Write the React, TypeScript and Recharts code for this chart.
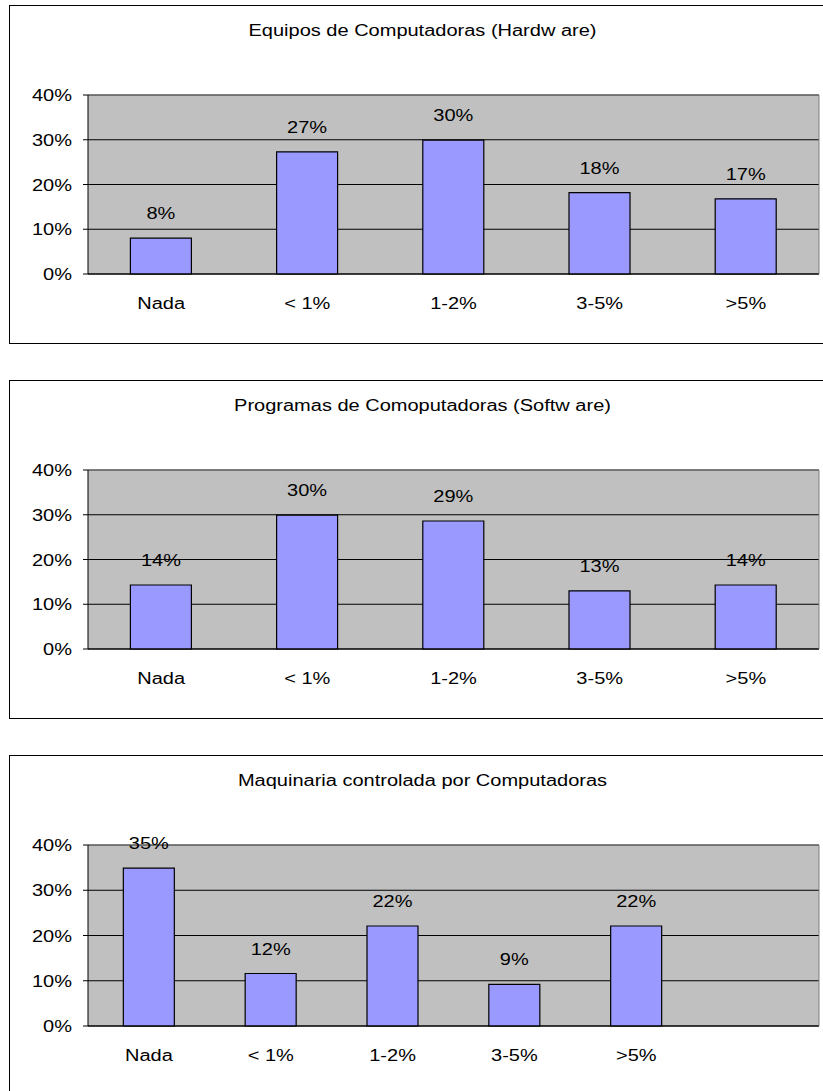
import React from 'react';
import {
  BarChart,
  Bar,
  XAxis,
  YAxis,
  CartesianGrid,
  LabelList,
} from 'recharts';

// Spending bands shown on the category axis
const categories = ['Nada', '< 1%', '1-2%', '3-5%', '>5%'];
const machineryCategories = ['Nada', '< 1%', '1-2%', '3-5%', '>5%', ''];

// Share of respondents per band (percent)
const hardwareValues = [8.0, 27.3, 29.9, 18.2, 16.8];
const softwareValues = [14.3, 29.9, 28.6, 13.0, 14.3];
const machineryValues = [34.9, 11.6, 22.1, 9.2, 22.1, null];

const yTicks = [0, 10, 20, 30, 40];

const FONT = "'Liberation Sans', Arial, sans-serif";
const FONT_SIZE = 16;
const STRETCH = 1.25;
const BAR_FILL = '#9999FF';
const PLOT_FILL = '#C0C0C0';
const FRAME_GRAY = '#808080';

const YTick = (props: any) => {
  const { x, y, payload } = props;
  return (
    <text
      transform={`translate(${x},${y}) scale(${STRETCH},1)`}
      x={0}
      y={0}
      dy={6}
      textAnchor="end"
      fontFamily={FONT}
      fontSize={FONT_SIZE}
      fill="#000"
    >
      {`${payload.value}%`}
    </text>
  );
};

const XTick = (props: any) => {
  const { x, y, payload } = props;
  if (!payload.value) return null;
  return (
    <text
      transform={`translate(${x},${y}) scale(${STRETCH},1)`}
      x={0}
      y={35}
      textAnchor="middle"
      fontFamily={FONT}
      fontSize={FONT_SIZE}
      fill="#000"
    >
      {payload.value}
    </text>
  );
};

const ValueLabel = (props: any) => {
  const { x, y, width, value } = props;
  if (value === null || value === undefined) return null;
  return (
    <text
      transform={`translate(${x + width / 2},${y}) scale(${STRETCH},1)`}
      x={0}
      y={-19}
      textAnchor="middle"
      fontFamily={FONT}
      fontSize={FONT_SIZE}
      fill="#000"
    >
      {`${Math.round(value)}%`}
    </text>
  );
};

type PanelProps = {
  title: string;
  cats: string[];
  values: (number | null)[];
  top: number;
  plotHeight: number;
};

function Panel({ title, cats, values, top, plotHeight }: PanelProps) {
  const data = cats.map((cat, i) => ({ cat, value: values[i] }));
  const edgeTicks = cats.map((_, i) => i).concat(cats.length);
  const chartHeight = 90 + plotHeight + 69;

  return (
    <>
      <div
        style={{
          position: 'absolute',
          left: 9,
          top,
          width: 840,
          height: 339,
          boxSizing: 'border-box',
          border: '1px solid #000',
        }}
      />
      <div
        style={{
          position: 'absolute',
          left: 0,
          width: 845,
          top: top + 17,
          lineHeight: '18px',
          textAlign: 'center',
          fontFamily: FONT,
          fontSize: FONT_SIZE,
          color: '#000',
          transform: `scaleX(${STRETCH})`,
          transformOrigin: '422.5px 50%',
          whiteSpace: 'nowrap',
        }}
      >
        {title}
      </div>
      <div style={{ position: 'absolute', left: 0, top }}>
        <BarChart
          width={823}
          height={chartHeight}
          data={data}
          margin={{ top: 89, right: 3, bottom: 67, left: 8 }}
          barCategoryGap="29%"
        >
          <CartesianGrid
            vertical={false}
            stroke="#000"
            fill={PLOT_FILL}
            fillOpacity={1}
          />
          <XAxis
            dataKey="cat"
            height={1}
            interval={0}
            tickSize={0}
            tickMargin={0}
            tickLine={false}
            axisLine={{ stroke: '#000' }}
            tick={<XTick />}
          />
          <XAxis
            xAxisId="edge"
            type="number"
            domain={[0, cats.length]}
            ticks={edgeTicks}
            allowDataOverflow
            height={1}
            interval={0}
            tick={false}
            tickSize={5}
            tickLine={{ stroke: '#000' }}
            axisLine={false}
          />
          <XAxis
            xAxisId="top"
            orientation="top"
            dataKey="cat"
            height={1}
            tick={false}
            tickLine={false}
            axisLine={{ stroke: FRAME_GRAY }}
          />
          <YAxis
            width={80}
            domain={[0, 40]}
            ticks={yTicks}
            interval={0}
            tickSize={5}
            tickMargin={11}
            tickLine={{ stroke: '#000' }}
            axisLine={{ stroke: '#000' }}
            tick={<YTick />}
          />
          <YAxis
            yAxisId="r"
            orientation="right"
            width={1}
            domain={[0, 40]}
            tick={false}
            tickLine={false}
            axisLine={{ stroke: FRAME_GRAY }}
          />
          <Bar
            dataKey="value"
            fill={BAR_FILL}
            stroke="#000"
            strokeWidth={1.2}
            isAnimationActive={false}
          >
            <LabelList dataKey="value" content={<ValueLabel />} />
          </Bar>
        </BarChart>
      </div>
    </>
  );
}

export default function App() {
  return (
    <div
      style={{
        position: 'absolute',
        left: 0,
        top: 0,
        width: 823,
        height: 1091,
        overflow: 'hidden',
        background: '#fff',
      }}
    >
      <Panel
        title="Equipos de Computadoras (Hardw are)"
        cats={categories}
        values={hardwareValues}
        top={5}
        plotHeight={179}
      />
      <Panel
        title="Programas de Comoputadoras (Softw are)"
        cats={categories}
        values={softwareValues}
        top={380}
        plotHeight={179}
      />
      <Panel
        title="Maquinaria controlada por Computadoras"
        cats={machineryCategories}
        values={machineryValues}
        top={755}
        plotHeight={181}
      />
    </div>
  );
}
